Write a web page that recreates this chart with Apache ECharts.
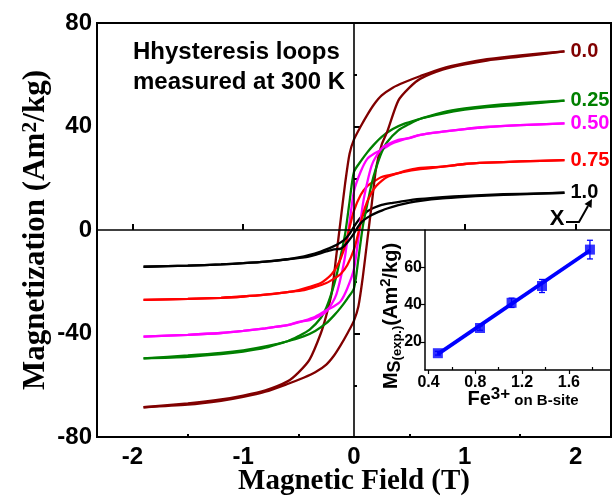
<!DOCTYPE html>
<html>
<head>
<meta charset="utf-8">
<script src="https://cdn.jsdelivr.net/npm/echarts@6/dist/echarts.min.js"></script>
<style>html,body{margin:0;padding:0;background:#fff;}#chart{width:616px;height:504px;}</style>
</head>
<body>
<div id="chart"></div>
<script>
// ---- main plot data ----
const fieldDown = [1.9, 1.5, 1.2, 1.0, 0.8, 0.6, 0.45, 0.35, 0.25, 0.18, 0.12, 0.06, 0, -0.04, -0.08, -0.12, -0.16, -0.2, -0.25, -0.3, -0.4, -0.5, -0.6, -0.8, -1.0, -1.2, -1.5, -1.9];
const fieldUp = [-1.9, -1.5, -1.2, -1.0, -0.8, -0.6, -0.45, -0.35, -0.25, -0.18, -0.12, -0.06, 0, 0.04, 0.08, 0.12, 0.16, 0.2, 0.25, 0.3, 0.4, 0.5, 0.6, 0.8, 1.0, 1.2, 1.5, 1.9];

const mDown00 = [69, 67.5, 66, 64.5, 62.5, 59.5, 57, 55, 52, 48.5, 44.5, 40, 35, 29.5, 18, 4, -10, -24, -33, -40, -50, -55, -58.5, -62, -64, -65.5, -67, -68.5];
const mUp00 = [-68.5, -67.5, -66, -64.5, -62.5, -59.5, -57, -55, -52, -48.5, -44.5, -40, -35, -29.5, -18, -4, 10, 24, 33, 38, 50, 55, 58.5, 62, 64, 65.5, 67, 69];

const mDown25 = [50, 49, 48, 47, 45.5, 43, 41, 39, 36, 33, 30, 26.5, 22.5, 11, -1.5, -10, -18, -24, -30, -34, -38.5, -41, -43, -45, -46.5, -47.5, -48.5, -49.6];
const mUp25 = [-49.6, -49, -48, -47, -45.5, -43, -41, -39, -36, -33, -30, -26.5, -22.5, -11, 1.5, 10, 18, 24, 30, 34, 38.5, 41, 43, 45, 46.5, 47.5, 48.5, 50];

const mDown50 = [41.2, 40.5, 39.8, 39, 38, 36.8, 35, 33.5, 31, 29.5, 27.5, 22.5, 15, 3, -10, -18.5, -25, -28.5, -31.5, -33, -34.8, -35.5, -36.8, -38, -39, -39.8, -40.5, -41.2];
const mUp50 = [-41.2, -40.5, -39.8, -39, -38, -36.8, -35, -33.5, -31, -29.5, -27.5, -22.5, -15, -3, 10, 18.5, 25, 28.5, 31.5, 33, 34.8, 35.5, 36.8, 38, 39, 39.8, 40.5, 41.2];

const mDown75 = [27, 26.5, 26, 25.5, 24.5, 23.5, 22.5, 21.5, 20.5, 18.8, 17, 13.5, 7.5, 1, -6, -11, -14.5, -17, -19, -20.5, -22, -23.2, -24, -25, -25.7, -26.2, -26.6, -27];
const mUp75 = [-27, -26.6, -26.2, -25.7, -25, -24, -23.2, -22, -20.5, -18.8, -17, -13.5, -7.5, -1, 6, 11, 14.5, 17, 19, 20.5, 22, 23.2, 24, 24.5, 25.5, 26, 26.5, 27];

const mDown100 = [14.4, 14, 13.6, 13.2, 12.7, 12, 11.2, 10.5, 9.7, 8.6, 7.2, 4.8, 1.3, -1.5, -3.5, -4.8, -5.8, -6.6, -7.5, -8.3, -9.6, -10.6, -11.3, -12.2, -12.8, -13.3, -13.8, -14.2];
const mUp100 = [-14.2, -13.8, -13.3, -12.8, -12.2, -11.3, -10.6, -9.6, -8.3, -7.5, -7.2, -4.8, -1.3, 1.5, 3.5, 4.8, 5.8, 6.6, 7.5, 8.3, 9.6, 10.6, 11.3, 12.2, 12.8, 13.3, 13.8, 14.4];

const loopLabels = ['0.0', '0.25', '0.50', '0.75', '1.0'];
const loopColors = ['#800000', '#008000', '#ff00ff', '#ff0000', '#000000'];
const downBranches = [mDown00, mDown25, mDown50, mDown75, mDown100];
const upBranches = [mUp00, mUp25, mUp50, mUp75, mUp100];

const xTicks = [-2, -1, 0, 1, 2];
const xMinorTicks = [-1.5, -0.5, 0.5, 1.5];

// ---- inset data ----
const fe3 = [0.48, 0.84, 1.11, 1.37, 1.78];
const msExp = [14, 27.5, 41, 50, 69.5];
const msErr = [1, 1.2, 2.5, 3.5, 5];
const fitX = [0.48, 1.78];
const fitY = [13.5, 69];
const insetXTicks = [0.4, 0.8, 1.2, 1.6];
const insetXMinor = [0.6, 1.0, 1.4, 1.8];
const insetYTicks = [20, 40, 60];

const sans = "'Liberation Sans', Arial, sans-serif";
const serif = "'Liberation Serif', 'Times New Roman', serif";

const zip = (a, b) => a.map((v, i) => [v, b[i]]);

const series = [];
downBranches.forEach((d, i) => {
  series.push({
    type: 'line', xAxisIndex: 0, yAxisIndex: 0, z: 3,
    data: zip(fieldDown, d), symbol: 'none', smooth: 0.25,
    lineStyle: { color: loopColors[i], width: 2.3 }
  });
});
upBranches.forEach((d, i) => {
  series.push({
    type: 'line', xAxisIndex: 0, yAxisIndex: 0, z: 3, name: loopLabels[i],
    data: zip(fieldUp, d), symbol: 'none', smooth: 0.25,
    lineStyle: { color: loopColors[i], width: 2.3 },
    endLabel: { show: true, formatter: loopLabels[i], color: loopColors[i], fontFamily: sans, fontWeight: 'bold', fontSize: 20, distance: 6 }
  });
});
// zero lines
series[0].markLine = {
  silent: true, symbol: ['none', 'none'], label: { show: false },
  lineStyle: { color: '#000', width: 1.6, type: 'solid' },
  data: [{ xAxis: 0 }, { yAxis: 0 }]
};
// inset
series.push({
  type: 'line', xAxisIndex: 2, yAxisIndex: 1, data: zip(fitX, fitY), symbol: 'none',
  lineStyle: { color: '#0000ff', width: 3.8 }, z: 5
});
series.push({
  type: 'custom', xAxisIndex: 2, yAxisIndex: 1, z: 6,
  data: fe3.map((x, i) => [x, msExp[i], msErr[i]]),
  renderItem: function (params, api) {
    const x = api.value(0), y = api.value(1), e = api.value(2);
    const top = api.coord([x, y + e]);
    const bot = api.coord([x, y - e]);
    const c = 3;
    const st = { stroke: '#0000ff', lineWidth: 1.3 };
    return {
      type: 'group', children: [
        { type: 'line', shape: { x1: top[0], y1: top[1], x2: bot[0], y2: bot[1] }, style: st },
        { type: 'line', shape: { x1: top[0] - c, y1: top[1], x2: top[0] + c, y2: top[1] }, style: st },
        { type: 'line', shape: { x1: bot[0] - c, y1: bot[1], x2: bot[0] + c, y2: bot[1] }, style: st }
      ]
    };
  }
});
series.push({
  type: 'scatter', xAxisIndex: 2, yAxisIndex: 1, z: 7, data: zip(fe3, msExp),
  symbol: 'rect', symbolSize: 10, itemStyle: { color: '#0000ff' }
});

const tickLabel = { color: '#000', fontFamily: sans, fontWeight: 'bold', fontSize: 24 };
const insetLabel = { color: '#000', fontFamily: sans, fontWeight: 'bold', fontSize: 16 };

const option = {
  animation: false,
  backgroundColor: '#ffffff',
  grid: [
    { left: 97, top: 23, right: 5, bottom: 67, outerBoundsMode: 'none', containLabel: false, show: true, borderColor: '#000', borderWidth: 2, backgroundColor: 'rgba(0,0,0,0)' },
    { left: 425, top: 230, right: 5, bottom: 134, outerBoundsMode: 'none', containLabel: false }
  ],
  xAxis: [
    {
      gridIndex: 0, type: 'value', min: -2.32, max: 2.32, position: 'bottom',
      axisLine: { show: false }, splitLine: { show: false },
      axisTick: { show: true, inside: true, length: 6, customValues: xTicks, lineStyle: { color: '#000', width: 2 } },
      axisLabel: Object.assign({ customValues: xTicks, margin: 8 }, tickLabel),
      name: 'Magnetic Field (T)', nameLocation: 'middle', nameGap: 30, nameMoveOverlap: false,
      nameTextStyle: { fontFamily: serif, fontWeight: 'bold', fontSize: 29, color: '#000' }
    },
    {
      gridIndex: 0, type: 'value', min: -2.32, max: 2.32, position: 'bottom',
      axisLine: { show: false }, splitLine: { show: false }, axisLabel: { show: false },
      axisTick: { show: true, inside: true, length: 3, customValues: xMinorTicks, lineStyle: { color: '#000', width: 2 } }
    },
    {
      gridIndex: 1, type: 'value', min: 0.37, max: 1.96, position: 'bottom',
      axisLine: { show: true, onZero: false, lineStyle: { color: '#000', width: 1.5 } }, splitLine: { show: false },
      axisTick: { show: true, inside: false, length: 4, customValues: insetXTicks, lineStyle: { color: '#000', width: 1.2 } },
      axisLabel: Object.assign({ customValues: insetXTicks, margin: 5 }, insetLabel)
    },
    {
      gridIndex: 1, type: 'value', min: 0.37, max: 1.96, position: 'bottom',
      axisLine: { show: false }, splitLine: { show: false }, axisLabel: { show: false },
      axisTick: { show: true, inside: true, length: 3, customValues: insetXMinor, lineStyle: { color: '#000', width: 1.2 } }
    }
  ],
  yAxis: [
    {
      gridIndex: 0, type: 'value', min: -80, max: 80, interval: 40,
      axisLine: { show: false }, splitLine: { show: false },
      axisTick: { show: true, inside: true, length: 6, lineStyle: { color: '#000', width: 2 } },
      minorTick: { show: true, splitNumber: 2, length: 3, lineStyle: { color: '#000', width: 2 } },
      axisLabel: Object.assign({ margin: 5 }, tickLabel),
      name: 'Magnetization (Am{sup|2}/kg)', nameLocation: 'middle', nameGap: 44, nameMoveOverlap: false,
      nameTextStyle: {
        fontFamily: serif, fontWeight: 'bold', fontSize: 31, color: '#000',
        rich: { sup: { fontFamily: serif, fontWeight: 'bold', fontSize: 22, color: '#000', verticalAlign: 'top', lineHeight: 34 } }
      }
    },
    {
      gridIndex: 1, type: 'value', min: 5, max: 80,
      axisLine: { show: true, onZero: false, lineStyle: { color: '#000', width: 1.5 } }, splitLine: { show: false },
      axisTick: { show: true, inside: false, length: 5, customValues: insetYTicks, lineStyle: { color: '#000', width: 1.2 } },
      axisLabel: Object.assign({ customValues: insetYTicks, margin: 3 }, insetLabel)
    }
  ],
  graphic: [
    {
      type: 'text', left: 133, top: 37, z: 10,
      style: { text: 'Hhysteresis loops\nmeasured at 300 K', font: 'bold 24px ' + sans, fill: '#000', lineHeight: 30 }
    },
    {
      type: 'text', x: 557, y: 219, z: 10,
      style: { text: 'X', font: 'bold 22px ' + sans, fill: '#000', align: 'center', verticalAlign: 'middle', textAlign: 'center', textVerticalAlign: 'middle' }
    },
    {
      type: 'polyline', z: 10, shape: { points: [[566, 222], [579, 222], [588, 206]] },
      style: { stroke: '#000', lineWidth: 2, fill: null }
    },
    {
      type: 'polygon', z: 10, shape: { points: [[592, 199], [591.5, 208], [584.5, 204]] },
      style: { fill: '#000' }
    },
    {
      type: 'text', x: 391, y: 316, rotation: Math.PI / 2, z: 10,
      style: {
        text: '{m|M}{s|S}{e|(exp.)}{m|(Am}{p|2}{m|/kg)}',
        align: 'center', verticalAlign: 'middle', textAlign: 'center', textVerticalAlign: 'middle',
        rich: {
          m: { fontFamily: sans, fontWeight: 'bold', fontSize: 20, fill: '#000', color: '#000', lineHeight: 26, verticalAlign: 'middle' },
          s: { fontFamily: sans, fontWeight: 'bold', fontSize: 18, fill: '#000', color: '#000', lineHeight: 26, verticalAlign: 'bottom' },
          e: { fontFamily: sans, fontWeight: 'bold', fontSize: 13, fill: '#000', color: '#000', lineHeight: 26, verticalAlign: 'bottom' },
          p: { fontFamily: sans, fontWeight: 'bold', fontSize: 15, fill: '#000', color: '#000', lineHeight: 26, verticalAlign: 'top' }
        }
      }
    },
    {
      type: 'text', x: 523, y: 399, z: 10,
      style: {
        text: '{f|Fe}{p|3+}{o| on B-site}',
        align: 'center', verticalAlign: 'middle', textAlign: 'center', textVerticalAlign: 'middle',
        rich: {
          f: { fontFamily: sans, fontWeight: 'bold', fontSize: 20, fill: '#000', color: '#000', lineHeight: 26, verticalAlign: 'middle' },
          p: { fontFamily: sans, fontWeight: 'bold', fontSize: 17, fill: '#000', color: '#000', lineHeight: 26, verticalAlign: 'top' },
          o: { fontFamily: sans, fontWeight: 'bold', fontSize: 15, fill: '#000', color: '#000', lineHeight: 26, verticalAlign: 'middle', padding: [3, 0, 0, 0] }
        }
      }
    }
  ],
  series: series
};

const chart = echarts.init(document.getElementById('chart'), null, { renderer: 'canvas' });
chart.setOption(option);
</script>
</body>
</html>
